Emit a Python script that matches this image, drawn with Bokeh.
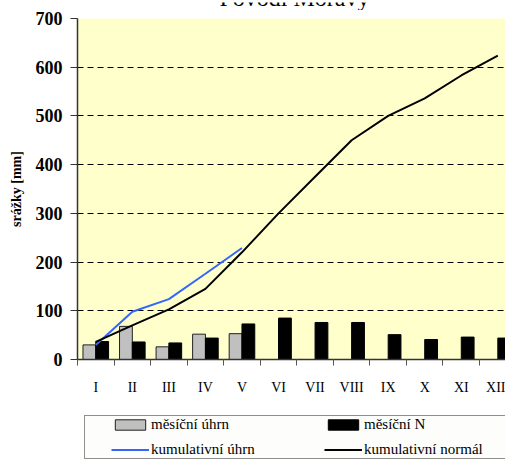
import numpy as np
from bokeh.plotting import figure
from bokeh.layouts import column
from bokeh.models import (ColumnDataSource, FixedTicker, Range1d, Legend,
                          LegendItem, Label)
from bokeh.embed import file_html
from bokeh.resources import INLINE

# Monthly precipitation, Morava river basin [mm]
months = ["I", "II", "III", "IV", "V", "VI", "VII", "VIII", "IX", "X", "XI", "XII"]
monthly_total = [30, 68, 26, 52, 53]                                   # měsíční úhrn (I–V)
monthly_normal = [37, 36, 34, 44, 73, 85, 76, 76, 51, 41, 46, 44]     # měsíční N
cumulative_total = list(np.cumsum(monthly_total))                     # kumulativní úhrn
cumulative_normal = [36, 70, 103, 145, 220, 300, 375, 450, 500, 536, 583, 624]  # kumulativní normál
y_ticks = [0, 100, 200, 300, 400, 500, 600, 700]

SERIF = "Liberation Serif, Times New Roman, serif"
BAR_W = 0.35
W = 505

TOTAL_STYLE = dict(fill_color="#C0C0C0", line_color="#202020", line_width=1)
NORMAL_STYLE = dict(fill_color="black", line_color="black", line_width=1)
CUM_TOTAL_STYLE = dict(line_color="#3366FF", line_width=2)
CUM_NORMAL_STYLE = dict(line_color="black", line_width=2)


def bare_figure(height):
    f = figure(width=W, height=height, x_range=Range1d(0, 1), y_range=Range1d(0, 1),
               output_backend="svg", toolbar_location=None,
               x_axis_location=None, y_axis_location=None,
               min_border=0, min_border_left=0, min_border_right=0,
               min_border_top=0, min_border_bottom=0)
    f.grid.visible = False
    f.outline_line_color = None
    f.background_fill_color = "white"
    f.border_fill_color = "white"
    return f


# ---- title strip (only the lower part of the heading fits) ----
head = bare_figure(10)
head.add_layout(Label(x=217, y=15, x_units="screen", y_units="screen",
                      text="Povodí Moravy", text_align="center",
                      text_baseline="alphabetic", text_font=SERIF,
                      text_font_size="24px", text_color="black"))

# ---- main chart ----
n_total = len(monthly_total)
centers = np.arange(len(months)) + 0.5

src_total = ColumnDataSource(dict(x=centers[:n_total] - BAR_W / 2, top=monthly_total))
src_normal = ColumnDataSource(dict(x=centers + BAR_W / 2, top=monthly_normal))
src_cum_total = ColumnDataSource(dict(x=centers[:n_total], y=cumulative_total))
src_cum_normal = ColumnDataSource(dict(x=centers, y=cumulative_normal))

p = figure(width=W, height=390,
           x_range=Range1d(0, 11.71), y_range=Range1d(0, 700),
           output_backend="svg", toolbar_location=None,
           min_border_left=77, min_border_right=0,
           min_border_top=8, min_border_bottom=41)
p.background_fill_color = "#FFFFCC"
p.border_fill_color = "white"
p.outline_line_color = None

p.vbar(x="x", top="top", width=BAR_W, bottom=0, source=src_total, **TOTAL_STYLE)
p.vbar(x="x", top="top", width=BAR_W, bottom=0, source=src_normal, **NORMAL_STYLE)
p.line("x", "y", source=src_cum_total, **CUM_TOTAL_STYLE)
p.line("x", "y", source=src_cum_normal, **CUM_NORMAL_STYLE)

# y axis
p.yaxis.ticker = FixedTicker(ticks=y_ticks)
p.yaxis.axis_line_color = "#333333"
p.yaxis.axis_line_width = 1.5
p.yaxis.major_tick_out = 7
p.yaxis.major_tick_in = 0
p.yaxis.major_tick_line_color = "#333333"
p.yaxis.minor_tick_line_color = None
p.yaxis.major_label_text_font = SERIF
p.yaxis.major_label_text_font_style = "bold"
p.yaxis.major_label_text_font_size = "18px"
p.yaxis.major_label_text_color = "black"
p.yaxis.major_label_standoff = 8
p.yaxis.axis_label = "srážky [mm]"
p.yaxis.axis_label_text_font = SERIF
p.yaxis.axis_label_text_font_style = "bold"
p.yaxis.axis_label_text_font_size = "14px"
p.yaxis.axis_label_text_color = "black"
p.yaxis.axis_label_standoff = 9

# x axis: month labels at centres, tick marks between months
p.xaxis.ticker = FixedTicker(ticks=list(centers), minor_ticks=list(range(len(months))))
p.xaxis.major_label_overrides = {float(c): m for c, m in zip(centers, months)}
p.xaxis.axis_line_color = "#333333"
p.xaxis.axis_line_width = 1.5
p.xaxis.major_tick_out = 0
p.xaxis.major_tick_in = 0
p.xaxis.major_tick_line_color = None
p.xaxis.minor_tick_out = 6
p.xaxis.minor_tick_in = 0
p.xaxis.minor_tick_line_color = "#555555"
p.xaxis.minor_tick_line_width = 1
p.xaxis.major_label_text_font = SERIF
p.xaxis.major_label_text_font_size = "14px"
p.xaxis.major_label_text_color = "black"
p.xaxis.major_label_standoff = 14

# grid
p.xgrid.grid_line_color = None
p.ygrid.ticker = FixedTicker(ticks=y_ticks)
p.ygrid.grid_line_color = "black"
p.ygrid.grid_line_dash = "6 4"
p.ygrid.grid_line_width = 1

# ---- legend strip ----
# hidden one-point stand-ins carry the legend swatches
leg = bare_figure(60)
k_total = leg.vbar(x="x", top="top", width=BAR_W, visible=False,
                   source=ColumnDataSource(dict(x=[centers[0]], top=[monthly_total[0]])),
                   **TOTAL_STYLE)
k_normal = leg.vbar(x="x", top="top", width=BAR_W, visible=False,
                    source=ColumnDataSource(dict(x=[centers[0]], top=[monthly_normal[0]])),
                    **NORMAL_STYLE)
k_cum_total = leg.line("x", "y", visible=False,
                       source=ColumnDataSource(dict(x=[centers[0]], y=[cumulative_total[0]])),
                       **CUM_TOTAL_STYLE)
k_cum_normal = leg.line("x", "y", visible=False,
                        source=ColumnDataSource(dict(x=[centers[0]], y=[cumulative_normal[0]])),
                        **CUM_NORMAL_STYLE)

legend = Legend(items=[
    LegendItem(label="měsíční úhrn", renderers=[k_total]),
    LegendItem(label="kumulativní úhrn", renderers=[k_cum_total]),
    LegendItem(label="měsíční N", renderers=[k_normal]),
    LegendItem(label="kumulativní normál", renderers=[k_cum_normal]),
], location=(7, 1), ncols=2)
legend.title = " "
legend.title_location = "left"
legend.title_text_font_size = "8px"
legend.title_standoff = 17
legend.padding = 0
legend.margin = 0
legend.border_line_color = "#202020"
legend.border_line_width = 1
legend.background_fill_color = "#FDFDFB"
legend.background_fill_alpha = 1.0
legend.inactive_fill_alpha = 0
legend.glyph_width = 38
legend.glyph_height = 13
legend.label_height = 17
legend.label_width = 165
legend.label_standoff = 2
legend.spacing = 8
legend.label_text_font = SERIF
legend.label_text_font_size = "15px"
legend.label_text_color = "black"
leg.add_layout(legend, "center")

page = column(head, p, leg, spacing=0)
open("out.html", "w").write(file_html(page, INLINE))
